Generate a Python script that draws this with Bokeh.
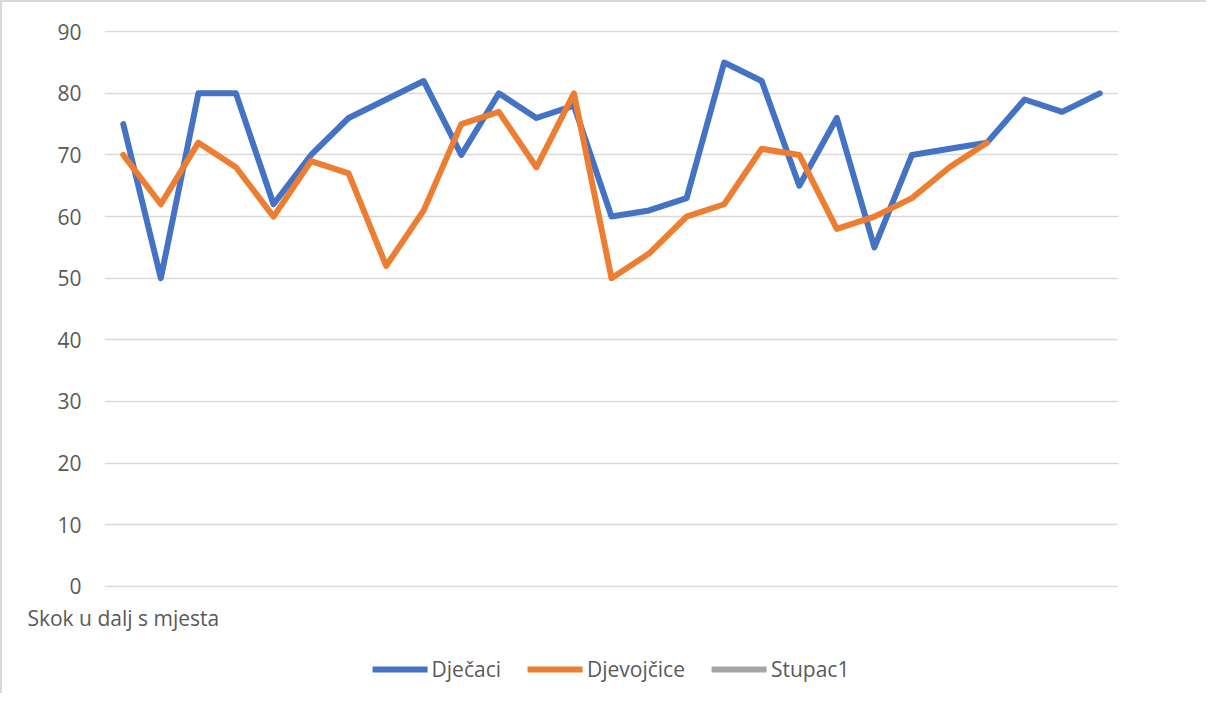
from bokeh.plotting import figure
from bokeh.models import Legend, LegendItem, FixedTicker, Range1d
from bokeh.layouts import column
from bokeh.embed import file_html
from bokeh.resources import INLINE

x_labels = ["Skok u dalj s mjesta"] + [""] * 26
djecaci = [75, 50, 80, 80, 62, 70, 76, 79, 82, 70, 80, 76, 78, 60, 61, 63, 85, 82,
           65, 76, 55, 70, 71, 72, 79, 77, 80]
djevojcice = [70, 62, 72, 68, 60, 69, 67, 52, 61, 75, 77, 68, 80, 50, 54, 60, 62, 71,
              70, 58, 60, 63, 68, 72]
stupac1 = [float("nan")]  # empty series, shown only in the legend
series_names = ["Dječaci", "Djevojčice", "Stupac1"]
series_colors = ["#4472C4", "#ED7D31", "#A5A5A5"]
y_ticks = [0, 10, 20, 30, 40, 50, 60, 70, 80, 90]

FONT = "Open Sans"
TXT = "#595959"
BORDER = "2px solid #D9D9D9"

# ---------------- main chart ----------------
p = figure(width=1206, height=645, output_backend="svg", toolbar_location=None,
           x_range=Range1d(-0.5, len(x_labels) - 0.5), y_range=Range1d(-0.2, 90.2),
           min_border_left=102, min_border_right=90, min_border_top=28,
           min_border_bottom=60)
p.styles = {"border-top": BORDER, "border-left": BORDER}
p.outline_line_color = None
p.background_fill_color = "white"
p.border_fill_color = "white"

all_series = [djecaci, djevojcice, stupac1]
for vals, col in zip(all_series, series_colors):
    p.line(list(range(len(vals))), vals, line_color=col, line_width=6,
           line_cap="round", line_join="round")

p.yaxis.ticker = FixedTicker(ticks=y_ticks)
p.yaxis.axis_line_color = None
p.yaxis.major_tick_line_color = None
p.yaxis.minor_tick_line_color = None
p.yaxis.major_tick_out = 0
p.yaxis.major_tick_in = 0
p.yaxis.major_label_text_font = FONT
p.yaxis.major_label_text_font_size = "21px"
p.yaxis.major_label_text_color = TXT
p.yaxis.major_label_standoff = 23

p.xaxis.ticker = FixedTicker(ticks=[i for i, l in enumerate(x_labels) if l])
p.xaxis.major_label_overrides = {i: l for i, l in enumerate(x_labels) if l}
p.xaxis.axis_line_color = None
p.xaxis.major_tick_line_color = None
p.xaxis.minor_tick_line_color = None
p.xaxis.major_tick_out = 0
p.xaxis.major_tick_in = 0
p.xaxis.major_label_text_font = FONT
p.xaxis.major_label_text_font_size = "21px"
p.xaxis.major_label_text_color = TXT
p.xaxis.major_label_standoff = 16

p.xgrid.visible = False
p.ygrid.ticker = FixedTicker(ticks=y_ticks)
p.ygrid.grid_line_color = "#D9D9D9"
p.ygrid.grid_line_width = 1.5

# ---------------- legend strip ----------------
p2 = figure(width=1206, height=48, output_backend="svg", toolbar_location=None,
            x_range=Range1d(0, 1), y_range=Range1d(0, 1),
            min_border_left=18, min_border_right=0, min_border_top=0,
            min_border_bottom=0)
p2.styles = {"border-left": BORDER}
p2.outline_line_color = None
p2.axis.visible = False
p2.grid.visible = False
p2.background_fill_color = "white"
p2.border_fill_color = "white"

items = []
for name, col in zip(series_names, series_colors):
    r = p2.line([0], [float("nan")], line_color=col, line_width=6,
                line_cap="round", line_join="round")
    items.append(LegendItem(label=name, renderers=[r]))

legend = Legend(items=items, orientation="horizontal", location="center",
                glyph_width=55, glyph_height=20, label_standoff=4, spacing=27,
                padding=0, margin=0, border_line_color=None,
                background_fill_alpha=0,
                label_text_font=FONT, label_text_font_size="21px",
                label_text_color=TXT)
p2.add_layout(legend, "center")

layout = column(p, p2, spacing=0)
open("out.html", "w").write(file_html(layout, INLINE))
